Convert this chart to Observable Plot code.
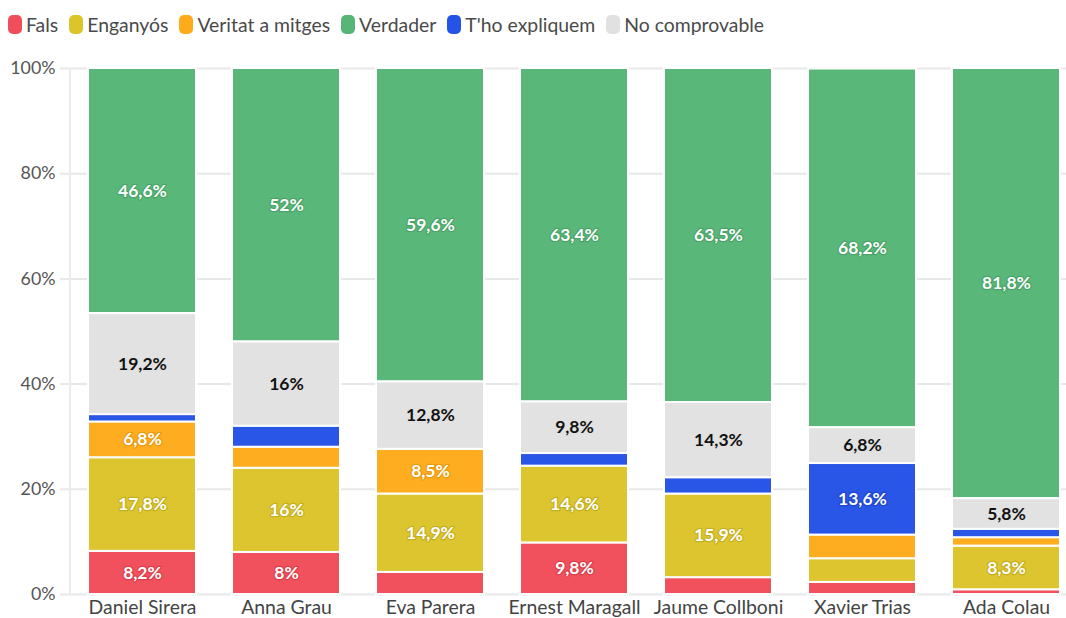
<!DOCTYPE html>
<html>
<head>
<meta charset="utf-8">
<script src="https://cdn.jsdelivr.net/npm/d3@7"></script>
<script src="https://cdn.jsdelivr.net/npm/@observablehq/plot@0.6"></script>
<style>
  body { margin: 0; background: #fff; font-family: Lato, "Noto Sans", sans-serif; }
  #legend { display: flex; align-items: center; height: 48px; padding-left: 8px; font-size: 19.4px; color: #4a4a4a; }
  .item { display: flex; align-items: center; margin-right: 11px; }
  .sw { width: 14px; height: 19px; border-radius: 5px; margin-right: 4px; }
</style>
</head>
<body>
<div id="legend"></div>
<div id="chart"></div>
<script>
const candidates = ["Daniel Sirera", "Anna Grau", "Eva Parera", "Ernest Maragall", "Jaume Collboni", "Xavier Trias", "Ada Colau"];
const categories = ["Fals", "Enganyós", "Veritat a mitges", "Verdader", "T'ho expliquem", "No comprovable"];
const stackOrder = ["Fals", "Enganyós", "Veritat a mitges", "T'ho expliquem", "No comprovable", "Verdader"];
const colors = ["#f04e5a", "#dcc42b", "#fdab1b", "#57b677", "#2553e6", "#e1e1e1"];
const halos = ["#c9303c", "#b39d12", "#d88a05", "#3a9558", "#1637b5", "#e1e1e1"];

const fals          = [8.2, 8.0, 4.2, 9.8, 3.2, 2.3, 0.9];
const enganyos      = [17.8, 16.0, 14.9, 14.6, 15.9, 4.5, 8.3];
const mitges        = [6.8, 4.0, 8.5, 0.0, 0.0, 4.5, 1.6];
const verdader      = [46.6, 52.0, 59.6, 63.4, 63.5, 68.2, 81.8];
const explica       = [1.4, 4.0, 0.0, 2.4, 3.1, 13.6, 1.6];
const noComprovable = [19.2, 16.0, 12.8, 9.8, 14.3, 6.8, 5.8];
const yTicks = [0, 20, 40, 60, 80, 100];

const series = [fals, enganyos, mitges, verdader, explica, noComprovable];
const data = [];
categories.forEach((cat, ci) => {
  candidates.forEach((name, i) => {
    data.push({name, cat, value: series[ci][i]});
  });
});

// legend
const legend = document.getElementById("legend");
categories.forEach((c, i) => {
  const it = document.createElement("div");
  it.className = "item";
  const sw = document.createElement("div");
  sw.className = "sw";
  sw.style.background = colors[i];
  it.appendChild(sw);
  const t = document.createElement("span");
  t.textContent = c;
  it.appendChild(t);
  legend.appendChild(it);
});

const haloOf = Object.fromEntries(categories.map((c, i) => [c, halos[i]]));
const fmt = v => String(v).replace(".", ",") + "%";

const chart = Plot.plot({
  width: 1066,
  height: 570,
  marginLeft: 60,
  marginRight: 0,
  marginTop: 20,
  marginBottom: 24,
  style: {fontFamily: "Lato, 'Noto Sans', sans-serif", background: "#fff"},
  x: {domain: candidates, range: [88, 1060], paddingInner: 0.25, paddingOuter: 0, label: null},
  y: {domain: [0, 100], label: null},
  color: {domain: categories, range: colors},
  marks: [
    Plot.gridY(yTicks, {stroke: "#e8e8e8", strokeOpacity: 1, strokeWidth: 2}),
    (index, scales, values, dims) => {
      const l = d3.create("svg:line")
        .attr("x1", dims.marginLeft + 10).attr("x2", dims.marginLeft + 10)
        .attr("y1", scales.y(100)).attr("y2", scales.y(0))
        .attr("stroke", "#ececec").attr("stroke-width", 2);
      return l.node();
    },
    Plot.barY(data, Plot.stackY({
      x: "name", y: "value", z: "cat", order: stackOrder,
      fill: "cat", stroke: "#fff", strokeWidth: 2, fillOpacity: 0.98
    })),
    Plot.text(data, Plot.stackY({
      x: "name", y: "value", z: "cat", order: stackOrder,
      text: d => d.value >= 5 ? fmt(d.value) : "",
      fill: d => d.cat === "No comprovable" ? "#111" : "#fff",
      stroke: d => haloOf[d.cat],
      strokeWidth: 2.5,
      strokeOpacity: 0.55,
      fontSize: 17.5,
      fontWeight: "bold"
    })),
    Plot.axisY(yTicks, {tickSize: 0, tickPadding: 5, tickFormat: d => d + "%", fontSize: 17.8, fill: "#555", label: null}),
    Plot.axisX({tickSize: 0, tickPadding: 6, fontSize: 19.4, fill: "#444", label: null})
  ]
});
document.getElementById("chart").appendChild(chart);
</script>
</body>
</html>
